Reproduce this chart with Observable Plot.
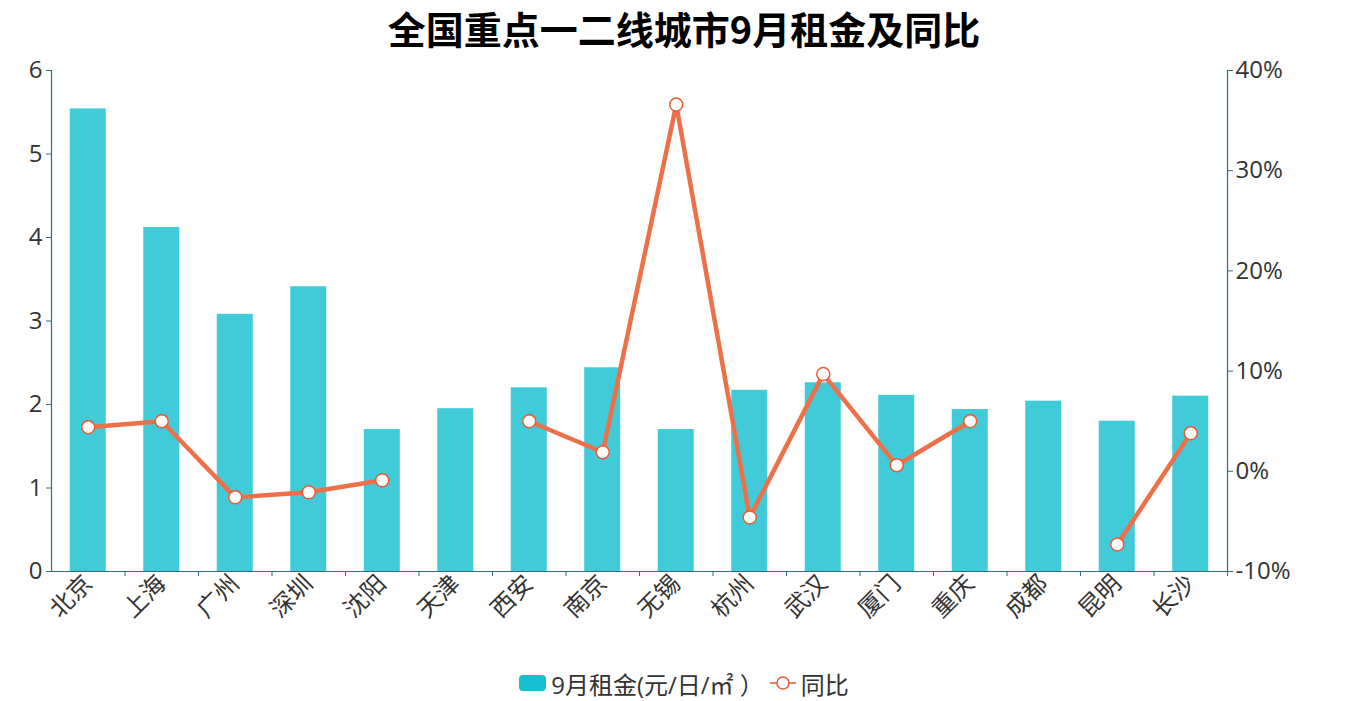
<!DOCTYPE html>
<html><head><meta charset="utf-8">
<script src="https://cdn.jsdelivr.net/npm/d3@7"></script>
<script src="https://cdn.jsdelivr.net/npm/@observablehq/plot@0.6"></script>
<style>
body{margin:0;background:#fff;font-family:"Open Sans","Noto Sans CJK SC",sans-serif;color:#333;}
#title{box-sizing:border-box;height:50px;padding-top:5px;line-height:46px;text-align:center;font-size:38px;font-weight:bold;font-family:"Noto Sans CJK SC","Noto Sans",sans-serif;color:#000;white-space:nowrap;}
#chart svg{display:block;}
#legend{display:flex;justify-content:center;align-items:center;margin-top:17px;height:30px;font-size:24px;font-family:"Open Sans","Noto Sans CJK SC",sans-serif;color:#333;}
#legend .sw{width:27px;height:16px;border-radius:4px;background:#17bfd0;margin-right:5px;}
#legend .ln{margin-left:6px;margin-right:5px;}
</style></head><body>
<div id="title">全国重点一二线城市9月租金及同比</div>
<div id="chart"></div>
<div id="legend"><div class="sw"></div><span>9月租金(元/日/㎡ ）</span><svg class="ln" width="26" height="16"><line x1="0" y1="8" x2="26" y2="8" stroke="#ee5a30" stroke-width="1.5"/><circle cx="13" cy="8" r="6" fill="#fff" stroke="#ee5a30" stroke-width="1.5"/></svg><span>同比</span></div>
<script>
const cities = ["北京","上海","广州","深圳","沈阳","天津","西安","南京","无锡","杭州","武汉","厦门","重庆","成都","昆明","长沙"];
const rent = [5.54,4.12,3.08,3.41,1.70,1.95,2.20,2.44,1.70,2.17,2.26,2.11,1.94,2.04,1.80,2.10];
const yoy = [4.4,5.0,-2.6,-2.1,-0.9,null,5.0,1.9,36.6,-4.6,9.7,0.6,5.0,null,-7.3,3.8];
const leftTicks = [0,1,2,3,4,5,6];
const rightTicks = [-10,0,10,20,30,40];

const data = cities.map((c,i)=>({city:c, rent:rent[i], yoy:yoy[i]}));
const toL = p => (p + 10) * 6 / 50;
const fromL = v => Math.round(v * 50 / 6 - 10);
const W = 1368, ML = 51, MR = 141;
const step = (W - ML - MR) / cities.length;
const axisColor = "#2f6f7d";
const barColor = "#41cbd8";
const lineColor = "#ee7048";
const dotStroke = "#ee5a30";

const plot = Plot.plot({
  width: W, height: 601,
  marginLeft: ML, marginRight: MR, marginTop: 20, marginBottom: 80,
  style: {fontFamily: '"Open Sans","Noto Sans CJK SC",sans-serif', color: "#333", background: "#fff"},
  x: {domain: cities, paddingInner: 0.51, paddingOuter: 0.255, round: false, label: null},
  y: {domain: [0, 6], label: null},
  marks: [
    Plot.barY(data, {x: "city", y: "rent", fill: barColor}),
    Plot.ruleX(cities, {x: d => d, y1: 0, y2: -0.06, dx: step / 2, stroke: axisColor}),
    Plot.ruleY([0], {stroke: axisColor, strokeWidth: 1.2}),
    Plot.frame({anchor: "left", stroke: axisColor, strokeWidth: 1.2}),
    Plot.frame({anchor: "right", stroke: axisColor, strokeWidth: 1.2}),
    Plot.axisY({anchor: "left", ticks: leftTicks, tickFormat: d => String(d), tickSize: 5, tickPadding: 4, fontSize: 24, stroke: axisColor, fill: "#333", label: null}),
    Plot.axisY({anchor: "right", ticks: rightTicks.map(toL), tickFormat: d => fromL(d) + "%", tickSize: 5, tickPadding: 3, fontSize: 24, stroke: axisColor, fill: "#333", label: null}),
    Plot.axisX({tickRotate: -45, tickSize: 0, tickPadding: 8, fontSize: 24, fill: "#333", label: null}),
    Plot.line(data, {x: "city", y: d => d.yoy == null ? NaN : toL(d.yoy), stroke: lineColor, strokeWidth: 4.5}),
    Plot.dot(data.filter(d => d.yoy != null), {x: "city", y: d => toL(d.yoy), r: 6.5, fill: "#fff", stroke: dotStroke, strokeWidth: 1.5})
  ]
});
document.getElementById("chart").appendChild(plot);
</script>
</body></html>
